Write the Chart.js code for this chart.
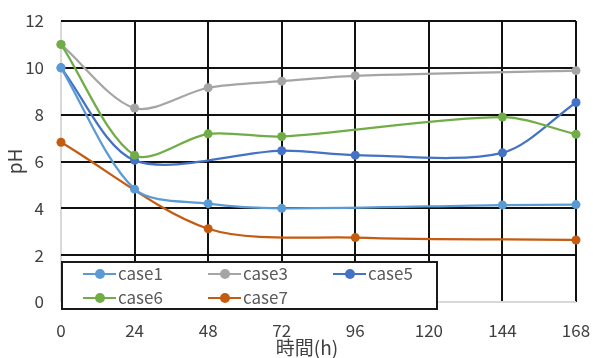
<!DOCTYPE html>
<html><head><meta charset="utf-8">
<script src="https://cdn.jsdelivr.net/npm/chart.js@4"></script>
<style>
html,body{margin:0;padding:0;background:#fff}
#wrap{position:relative;width:593px;height:358px}
#legend{position:absolute;left:61px;top:261px;width:373px;height:45px;border:2px solid #1a1a1a;background:#fff;font:17px "Noto Sans CJK JP","Noto Sans",sans-serif;color:#595959}
.item{position:absolute;height:20px;white-space:nowrap}
.sw{position:absolute;left:0;top:9px;width:33px;height:2px}
.dot{position:absolute;left:12px;top:5px;width:10px;height:10px;border-radius:50%}
.txt{position:absolute;left:35px;top:-3px;line-height:24px}
</style></head>
<body>
<div id="wrap"><canvas id="c" width="593" height="358"></canvas><div id="legend"></div></div>
<script>
// sampling times (h) and measured pH per case; null = not measured
const hours = [0, 24, 48, 72, 96, 120, 144, 168];
const case1 = [10, 4.82, 4.2, 4.0, null, null, 4.14, 4.16];
const case3 = [11, 8.28, 9.15, 9.43, 9.66, null, null, 9.88];
const case5 = [10, 6.05, null, 6.46, 6.27, null, 6.37, 8.52];
const case6 = [11, 6.27, 7.18, 7.07, null, null, 7.9, 7.16];
const case7 = [6.82, null, 3.13, null, 2.75, null, null, 2.65];
const yTicks = [0, 2, 4, 6, 8, 10, 12];

const FONT = '"Noto Sans CJK JP","Noto Sans",sans-serif';
const series = [
  { label: 'case1', values: case1, color: '#5B9BD5', order: 0 },
  { label: 'case3', values: case3, color: '#A5A5A5', order: 3 },
  { label: 'case5', values: case5, color: '#4472C4', order: 2 },
  { label: 'case6', values: case6, color: '#70AD47', order: 1 },
  { label: 'case7', values: case7, color: '#C55A11', order: 4 }
];

const toPoints = vals => hours.map((h, i) => ({ x: h, y: vals[i] })).filter(p => p.y !== null);

const datasets = series.map(s => ({
  label: s.label,
  data: toPoints(s.values),
  borderColor: s.color,
  backgroundColor: s.color,
  borderWidth: 2.25,
  pointRadius: 4.5,
  pointBorderWidth: 0,
  pointHoverRadius: 4.5,
  tension: 0.3,
  clip: false,
  order: s.order
}));

const xTitle = {
  id: 'xTitle',
  afterDraw(chart) {
    const ctx = chart.ctx;
    ctx.save();
    ctx.font = '19px ' + FONT;
    ctx.fillStyle = '#404040';
    ctx.textAlign = 'center';
    ctx.textBaseline = 'middle';
    ctx.fillText('時間(h)', 307, 348);
    ctx.restore();
  }
};

Chart.defaults.font.family = FONT;
Chart.defaults.font.size = 17;
Chart.defaults.color = '#404040';

new Chart(document.getElementById('c'), {
  type: 'line',
  data: { datasets },
  options: {
    responsive: false,
    animation: false,
    events: [],
    layout: { padding: { top: 21, right: 17, left: 0, bottom: 0 } },
    plugins: { legend: { display: false }, tooltip: { enabled: false } },
    scales: {
      x: {
        type: 'linear',
        min: 0, max: 168,
        afterFit: s => { s.height = 56; s.paddingLeft = 0; s.paddingRight = 0; },
        ticks: { stepSize: 24, padding: 18, maxRotation: 0, color: '#404040', font: { size: 17 } },
        border: { display: false },
        grid: {
          drawTicks: false,
          lineWidth: 2,
          color: c => c.tick && c.tick.value === 0 ? '#d9d9d9' : '#111'
        }
      },
      y: {
        min: 0, max: 12,
        afterFit: s => { s.width = 61; s.paddingTop = 0; s.paddingBottom = 0; },
        afterBuildTicks: s => { s.ticks = yTicks.map(v => ({ value: v })); },
        ticks: { padding: 17, color: '#404040', font: { size: 17 } },
        border: { display: false },
        title: { display: true, text: 'pH', color: '#404040', font: { size: 19 }, padding: { top: 3, bottom: 0 } },
        grid: {
          drawTicks: false,
          lineWidth: 2,
          color: c => c.tick && c.tick.value === 0 ? '#d9d9d9' : '#111'
        }
      }
    }
  },
  plugins: [xTitle]
});

// legend boxed inside the plot, three columns
const legend = document.getElementById('legend');
const colX = [20, 145, 270];
const rowY = [1, 25];
series.forEach((s, i) => {
  const it = document.createElement('div');
  it.className = 'item';
  it.style.left = colX[i % 3] + 'px';
  it.style.top = rowY[Math.floor(i / 3)] + 'px';
  it.innerHTML = '<span class="sw" style="background:' + s.color + '"></span>' +
    '<span class="dot" style="background:' + s.color + '"></span>' +
    '<span class="txt">' + s.label + '</span>';
  legend.appendChild(it);
});
</script>
</body></html>
